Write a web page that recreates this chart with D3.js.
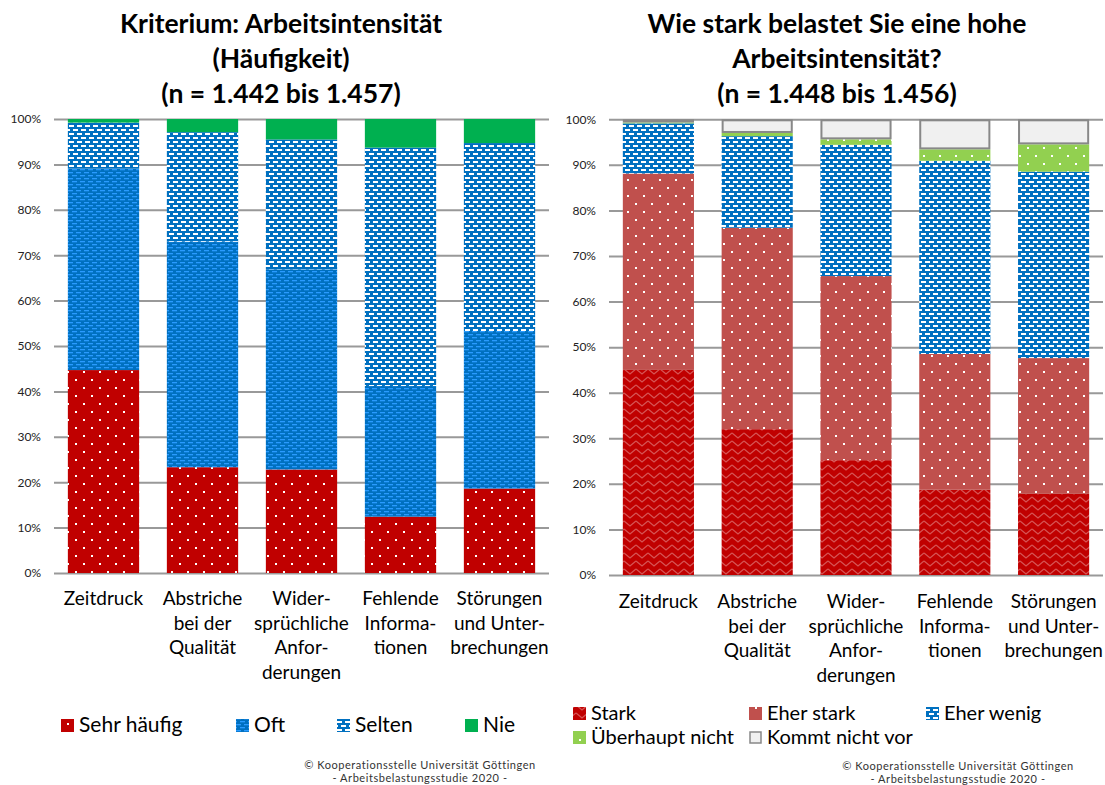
<!DOCTYPE html>
<html><head><meta charset="utf-8">
<script src="https://cdn.jsdelivr.net/npm/d3@7"></script>
<style>
html,body{margin:0;padding:0;background:#fff;}
svg text{font-family:Lato,"Open Sans",sans-serif;}
</style></head>
<body>
<svg id="chart" width="1105" height="785"></svg>
<script>
// ---------- DATA ----------
const categoryLabels = [
  ["Zeitdruck"],
  ["Abstriche","bei der","Qualität"],
  ["Wider-","sprüchliche","Anfor-","derungen"],
  ["Fehlende","Informa-","tionen"],
  ["Störungen","und Unter-","brechungen"]
];
const categories = categoryLabels.map(l => l.join(" "));
const tickValues = [0,10,20,30,40,50,60,70,80,90,100];
const tickLabels = ["0%","10%","20%","30%","40%","50%","60%","70%","80%","90%","100%"];

// Left chart: Häufigkeit
const leftSeriesNames = ["Sehr häufig","Oft","Selten","Nie"];
const sehrHaeufig = [44.7, 23.3, 22.8, 12.4, 18.6];
const oft         = [44.4, 49.7, 44.1, 28.8, 34.7];
const selten      = [10.1, 24.1, 28.6, 52.5, 41.4];
const nie         = [ 0.8,  2.9,  4.5,  6.3,  5.3];

// Right chart: Belastung
const rightSeriesNames = ["Stark","Eher stark","Eher wenig","Überhaupt nicht","Kommt nicht vor"];
const stark           = [45.0, 32.0, 25.2, 18.7, 17.8];
const eherStark       = [43.1, 44.2, 40.4, 29.8, 29.8];
const eherWenig       = [11.0, 20.1, 28.8, 42.4, 40.9];
const ueberhauptNicht = [ 0.2,  0.7,  1.2,  2.5,  6.0];
const kommtNichtVor   = [ 0.7,  3.0,  4.4,  6.6,  5.5];

const leftTitle = ["Kriterium: Arbeitsintensität","(Häufigkeit)","(n = 1.442 bis 1.457)"];
const rightTitle = ["Wie stark belastet Sie eine hohe","Arbeitsintensität?","(n = 1.448 bis 1.456)"];
const copyright = ["© Kooperationsstelle Universität Göttingen","- Arbeitsbelastungsstudie 2020 -"];

// ---------- PATTERNS ----------
const svg = d3.select("#chart");
const defs = svg.append("defs");

function dotPattern(id, bg){
  const p = defs.append("pattern").attr("id", id).attr("patternUnits","userSpaceOnUse")
    .attr("width",16).attr("height",16);
  p.append("rect").attr("width",16).attr("height",16).attr("fill",bg);
  p.append("rect").attr("x",3).attr("y",3).attr("width",2).attr("height",2).attr("fill","#fff");
  p.append("rect").attr("x",11).attr("y",11).attr("width",2).attr("height",2).attr("fill","#fff");
}
dotPattern("pSehr","#C00000");
dotPattern("pEherStark","#C0504D");
dotPattern("pUeber","#92D050");

// Oft: dark blue with light-blue small dashes
(function(){
  const p = defs.append("pattern").attr("id","pOft").attr("patternUnits","userSpaceOnUse")
    .attr("width",8).attr("height",6);
  p.append("rect").attr("width",8).attr("height",6).attr("fill","#0070C0");
  p.append("rect").attr("x",0).attr("y",1).attr("width",5).attr("height",1.3).attr("fill","#2A9BFF");
  p.append("rect").attr("x",4).attr("y",4).attr("width",4).attr("height",1.3).attr("fill","#2A9BFF");
  p.append("rect").attr("x",0).attr("y",4).attr("width",1).attr("height",1.3).attr("fill","#2A9BFF");
})();
// Selten / Eher wenig: blue with white dashes
function dashPattern(id){
  const p = defs.append("pattern").attr("id",id).attr("patternUnits","userSpaceOnUse")
    .attr("width",8).attr("height",8);
  p.append("rect").attr("width",8).attr("height",8).attr("fill","#0070C0");
  p.append("rect").attr("x",1).attr("y",1).attr("width",5).attr("height",2).attr("fill","#fff");
  p.append("rect").attr("x",5).attr("y",5).attr("width",3).attr("height",2).attr("fill","#fff");
  p.append("rect").attr("x",0).attr("y",5).attr("width",2).attr("height",2).attr("fill","#fff");
}
dashPattern("pSelten");
dashPattern("pEherWenig");
// Stark: red zigzag
(function(){
  const p = defs.append("pattern").attr("id","pStark").attr("patternUnits","userSpaceOnUse")
    .attr("width",12).attr("height",8);
  p.append("rect").attr("width",12).attr("height",8).attr("fill","#C00000");
  p.append("path").attr("d","M0,1 L6,6 L12,1").attr("fill","none").attr("stroke","#D65454").attr("stroke-width",1.3);
})();

// ---------- CHART FUNCTION ----------
function drawChart(cfg){
  const g = svg.append("g");
  const x = d3.scaleBand().domain(categories).range([cfg.x0, cfg.x1]).paddingInner(0.28).paddingOuter(0.14);
  const y = d3.scaleLinear().domain([0,100]).range([cfg.yBottom, cfg.yTop]);

  // title
  const t = g.append("text").attr("text-anchor","middle").attr("font-weight","bold")
    .attr("font-size", cfg.titleSize).attr("fill","#000");
  cfg.title.forEach((line,i)=>{
    t.append("tspan").attr("x",cfg.titleX).attr("y",cfg.titleY + i*35).text(line);
  });

  // gridlines + y labels
  const axis = d3.axisLeft(y).tickValues(tickValues).tickFormat((d,i)=>tickLabels[i])
    .tickSize(-(cfg.x1-cfg.x0)).tickPadding(13);
  const ag = g.append("g").attr("transform",`translate(${cfg.x0},0)`).call(axis);
  ag.select(".domain").remove();
  ag.selectAll(".tick line").attr("stroke","#999").attr("stroke-width",2);
  ag.selectAll(".tick text").attr("font-size",12).attr("fill","#222").attr("font-family","Lato,sans-serif");

  // stacked bars
  const rows = categories.map((c,i)=>{
    const o = {cat:c};
    cfg.series.forEach(s=>{ o[s.name] = s.values[i]; });
    return o;
  });
  const stack = d3.stack().keys(cfg.series.map(s=>s.name));
  const layers = stack(rows);
  layers.forEach((layer,li)=>{
    const s = cfg.series[li];
    g.append("g").selectAll("rect").data(layer).join("rect")
      .attr("x", d=>x(d.data.cat) + (s.stroke ? 1 : 0))
      .attr("width", x.bandwidth() - (s.stroke ? 2 : 0))
      .attr("y", d=>y(d[1]) + (s.stroke ? 1 : 0))
      .attr("height", d=>Math.max(0, y(d[0]) - y(d[1]) - (s.stroke ? 2 : 0)))
      .attr("fill", s.fill)
      .attr("stroke", s.stroke || null)
      .attr("stroke-width", s.stroke ? 2 : null);
  });

  // category labels
  categoryLabels.forEach((lines,i)=>{
    const cx = x(categories[i]) + x.bandwidth()/2;
    const tt = g.append("text").attr("text-anchor","middle").attr("font-size",19).attr("fill","#000");
    lines.forEach((ln,j)=>{
      tt.append("tspan").attr("x",cx).attr("y",cfg.labelY + j*24.5).text(ln);
    });
  });

  // legend
  cfg.legend.forEach((it)=>{
    const s = cfg.series.find(v=>v.name===it.name);
    g.append("rect").attr("x",it.x + (s.stroke?1:0)).attr("y",it.y - 13 + (s.stroke?1:0))
      .attr("width",13 - (s.stroke?2:0)).attr("height",13 - (s.stroke?2:0))
      .attr("fill",s.fill).attr("stroke",s.stroke||null).attr("stroke-width",s.stroke?1.5:null);
    g.append("text").attr("x",it.x+18).attr("y",it.y).attr("font-size",cfg.legendSize).attr("fill","#000").text(it.name);
  });

  // copyright (two separate lines)
  copyright.forEach((ln,i)=>{
    g.append("text").attr("text-anchor","middle").attr("font-size",11)
      .attr("letter-spacing",0.55).attr("fill","#333")
      .attr("x",cfg.copyX).attr("y",cfg.copyY + i*13).text(ln);
  });
}

drawChart({
  x0:54, x1:549, yTop:119, yBottom:573,
  title:leftTitle, titleX:281, titleY:33, titleSize:26.5,
  labelY:605, legendSize:21,
  series:[
    {name:leftSeriesNames[0], values:sehrHaeufig, fill:"url(#pSehr)"},
    {name:leftSeriesNames[1], values:oft, fill:"url(#pOft)"},
    {name:leftSeriesNames[2], values:selten, fill:"url(#pSelten)"},
    {name:leftSeriesNames[3], values:nie, fill:"#00B050"}
  ],
  legend:[
    {name:"Sehr häufig", x:61, y:732},
    {name:"Oft", x:236, y:732},
    {name:"Selten", x:337, y:732},
    {name:"Nie", x:465, y:732}
  ],
  copyX:420, copyY:769
});

drawChart({
  x0:609, x1:1103, yTop:119.3, yBottom:575,
  title:rightTitle, titleX:837, titleY:33, titleSize:26.5,
  labelY:608, legendSize:20,
  series:[
    {name:rightSeriesNames[0], values:stark, fill:"url(#pStark)"},
    {name:rightSeriesNames[1], values:eherStark, fill:"url(#pEherStark)"},
    {name:rightSeriesNames[2], values:eherWenig, fill:"url(#pEherWenig)"},
    {name:rightSeriesNames[3], values:ueberhauptNicht, fill:"url(#pUeber)"},
    {name:rightSeriesNames[4], values:kommtNichtVor, fill:"#F0F0F0", stroke:"#888"}
  ],
  legend:[
    {name:"Stark", x:573, y:720},
    {name:"Eher stark", x:749, y:720},
    {name:"Eher wenig", x:926, y:720},
    {name:"Überhaupt nicht", x:573, y:744},
    {name:"Kommt nicht vor", x:749, y:744}
  ],
  copyX:958, copyY:770
});
</script>
</body></html>
